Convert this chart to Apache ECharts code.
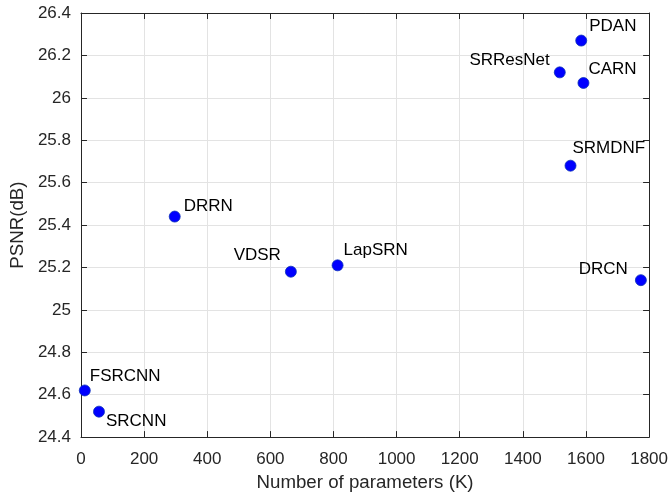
<!DOCTYPE html>
<html>
<head>
<meta charset="utf-8">
<script src="https://cdn.jsdelivr.net/npm/echarts@6/dist/echarts.min.js"></script>
<style>html,body{margin:0;padding:0;background:#fff;overflow:hidden;}#c{width:671px;height:497px;}</style>
</head>
<body>
<div id="c"></div>
<script>
// ---- data ----
var methods = ['PDAN','SRResNet','CARN','SRMDNF','FSRCNN','SRCNN','DRRN','VDSR','LapSRN','DRCN'];
var params  = [1585, 1517, 1592, 1551, 12, 57, 297, 665, 813, 1774];
var psnr    = [26.27, 26.12, 26.07, 25.68, 24.62, 24.52, 25.44, 25.18, 25.21, 25.14];
var xTicks = [0,200,400,600,800,1000,1200,1400,1600,1800];
var yTicks = [24.4,24.6,24.8,25,25.2,25.4,25.6,25.8,26,26.2,26.4];

// ---- label placement (style) ----
var labelPlace = {
  'PDAN':    {align:'left',  offset:[8,-14]},
  'SRResNet':{align:'right', offset:[-10,-12]},
  'CARN':    {align:'left',  offset:[5,-14]},
  'SRMDNF':  {align:'left',  offset:[2,-17]},
  'FSRCNN':  {align:'left',  offset:[5,-14]},
  'SRCNN':   {align:'left',  offset:[7,10]},
  'DRRN':    {align:'left',  offset:[9,-10]},
  'VDSR':    {align:'right', offset:[-10,-16]},
  'LapSRN':  {align:'left',  offset:[6,-15]},
  'DRCN':    {align:'right', offset:[-13,-11]}
};

var FONT = '"Liberation Sans", Arial, Helvetica, sans-serif';
var TXT = '#262626';

var data = methods.map(function(m, i){
  var lp = labelPlace[m];
  return {
    name: m,
    value: [params[i], psnr[i]],
    label: {show:true, position:'inside', align: lp.align, verticalAlign:'middle', offset: lp.offset}
  };
});

function fmtY(v){ return (Math.round(v*10)/10).toString(); }
function fmtX(v){ return String(Math.round(v)); }

var chart = echarts.init(document.getElementById('c'), null, {renderer:'canvas', width:671, height:497});
chart.setOption({
  animation:false,
  backgroundColor:'#fff',
  grid:{left:77, right:19, top:13, bottom:58, containLabel:false},
  xAxis:[{
    type:'value', min:xTicks[0], max:xTicks[xTicks.length-1], interval:200,
    name:'Number of parameters (K)', nameLocation:'middle', nameGap:35,
    nameTextStyle:{fontFamily:FONT, fontSize:18.7, color:TXT},
    axisLine:{show:true, onZero:false, lineStyle:{color:TXT, width:1}},
    axisTick:{show:true, inside:true, length:6, lineStyle:{color:TXT}},
    axisLabel:{fontFamily:FONT, fontSize:17, color:TXT, margin:14, formatter:fmtX},
    splitLine:{show:true, lineStyle:{color:'#e3e3e3', width:1}}
  },{
    type:'value', position:'top', min:xTicks[0], max:xTicks[xTicks.length-1], interval:200,
    axisLine:{show:true, onZero:false, lineStyle:{color:TXT, width:1}},
    axisTick:{show:true, inside:true, length:6, lineStyle:{color:TXT}},
    axisLabel:{show:false}, splitLine:{show:false}
  }],
  yAxis:[{
    type:'value', min:yTicks[0], max:yTicks[yTicks.length-1], interval:0.2,
    name:'PSNR(dB)', nameLocation:'middle', nameGap:50, nameRotate:90,
    nameTextStyle:{fontFamily:FONT, fontSize:18.7, color:TXT},
    axisLine:{show:true, onZero:false, lineStyle:{color:TXT, width:1}},
    axisTick:{show:true, inside:true, length:6, lineStyle:{color:TXT}},
    axisLabel:{fontFamily:FONT, fontSize:17, color:TXT, margin:10, formatter:fmtY},
    splitLine:{show:true, lineStyle:{color:'#e3e3e3', width:1}}
  },{
    type:'value', position:'right', min:yTicks[0], max:yTicks[yTicks.length-1], interval:0.2,
    axisLine:{show:true, onZero:false, lineStyle:{color:TXT, width:1}},
    axisTick:{show:true, inside:true, length:6, lineStyle:{color:TXT}},
    axisLabel:{show:false}, splitLine:{show:false}
  }],
  series:[{
    type:'scatter',
    xAxisIndex:0, yAxisIndex:0,
    symbol:'circle', symbolSize:11,
    itemStyle:{color:'#0000ff', borderColor:'#0a2fb8', borderWidth:0.8, opacity:1},
    label:{show:true, formatter:'{b}', fontFamily:FONT, fontSize:17, color:'#000'},
    emphasis:{disabled:true},
    data:data
  }]
});
</script>
</body>
</html>
